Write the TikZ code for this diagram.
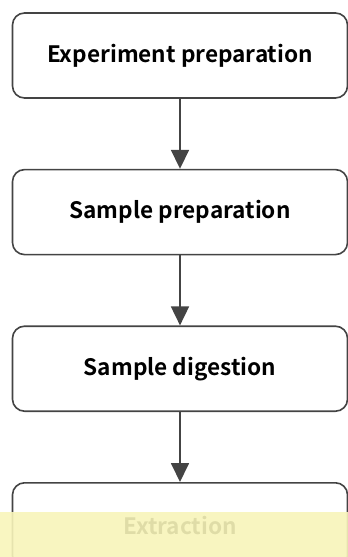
\documentclass[tikz,border=0pt]{standalone}
\usepackage{fontspec}
\setmainfont{Noto Sans CJK SC}[BoldFont=* Bold]
\usepackage{xcolor}
\usetikzlibrary{positioning, arrows.meta}
\definecolor{edgegray}{RGB}{68,68,68}
\definecolor{bandyellow}{RGB}{248,245,186}
\tikzset{
  stage/.style={rectangle, rounded corners=12pt, draw=edgegray, line width=1.6pt, fill=white,
    minimum width=335pt, minimum height=85pt, font=\fontsize{22.6pt}{26pt}\selectfont\bfseries},
  flowarrow/.style={-{Triangle[length=19pt, width=18pt]}, line width=1.8pt, draw=edgegray}
}
\begin{document}
\begin{tikzpicture}[x=1pt, y=1pt, node distance=70pt]
        \useasboundingbox (0,0) rectangle (348,-557);
        % Stages as blocks
        \node[stage] (expprep) at (180,-55.5) {Experiment preparation};
        \node[stage, below=of expprep] (sampprep) {Sample preparation};
        \node[stage, below=of sampprep] (digest) {Sample digestion};
        \node[stage, below=of digest] (extract) {Extraction};
        % Arrows between stages
        \draw[flowarrow] (expprep) -- (sampprep);
        \draw[flowarrow] (sampprep) -- (digest);
        \draw[flowarrow] (digest) -- (extract);
        % Highlight band over the last stage
        \fill[bandyellow, opacity=0.9] (0,-512) rectangle (348,-557);
    \end{tikzpicture}
\end{document}
